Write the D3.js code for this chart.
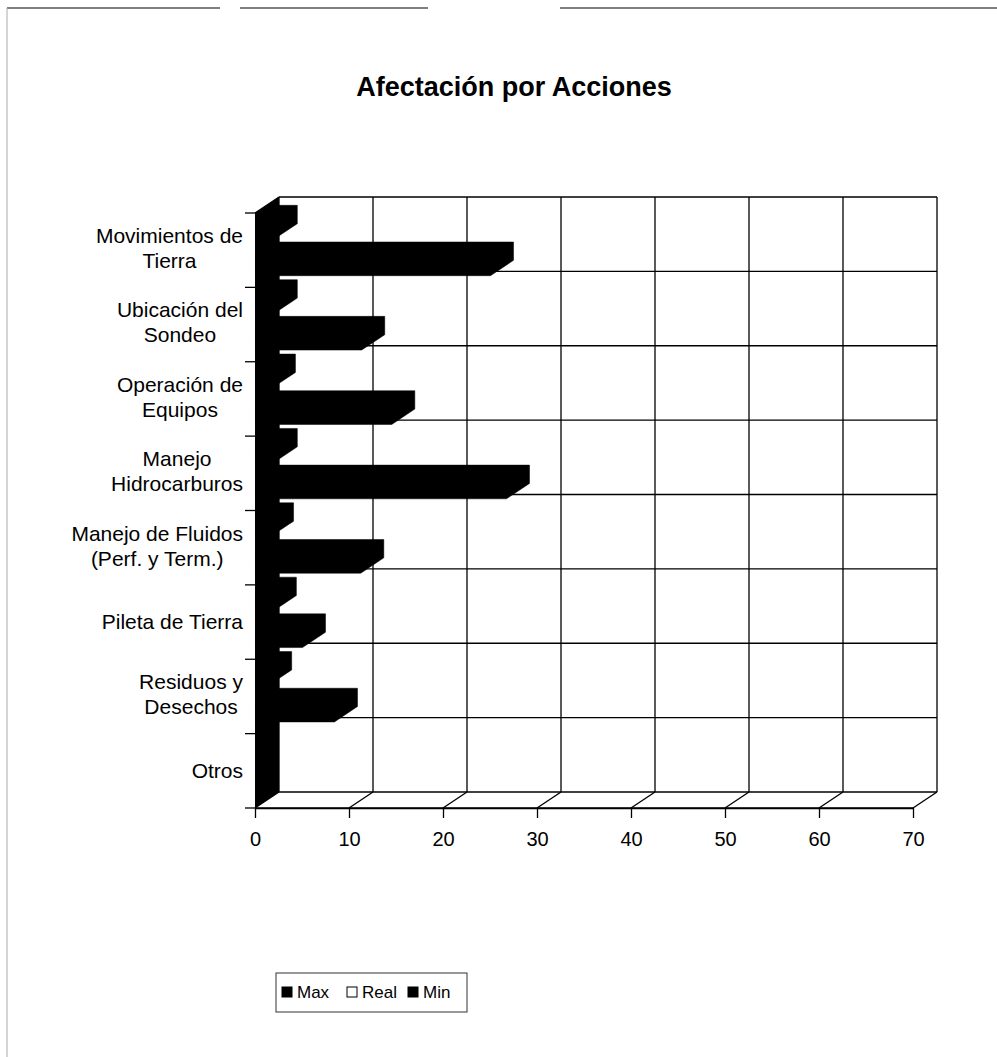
<!DOCTYPE html>
<html>
<head>
<meta charset="utf-8">
<script src="https://cdn.jsdelivr.net/npm/d3@7"></script>
<style>
  body { margin: 0; background: #fff; }
  text { font-family: "Liberation Sans", Arial, sans-serif; fill: #000; }
</style>
</head>
<body>
<div id="chart"></div>
<script>
// data
var categories = [
  "Movimientos de\nTierra",
  "Ubicación del\nSondeo",
  "Operación de\nEquipos",
  "Manejo\nHidrocarburos",
  "Manejo de Fluidos\n(Perf. y Term.)",
  "Pileta de Tierra",
  "Residuos y\nDesechos",
  "Otros"
];
var maxValues  = [25, 11.3, 14.5, 26.7, 11.2, 5, 8.4, 0];
var realValues = [0, 0, 0, 0, 0, 0, 0, 0];
var minValues  = [2, 2, 1.8, 2, 1.6, 1.9, 1.4, 0];
var seriesNames = ["Max", "Real", "Min"];
var seriesFill = ["#000", "#fff", "#000"];
var xTicks = [0, 10, 20, 30, 40, 50, 60, 70];

var W = 997, H = 1057;
var DX = 24, DY = -16;     // depth offset of the 3d box
var d0 = 0.02, d1 = 0.98;  // bar depth inside the box

var svg = d3.select("#chart").append("svg")
  .attr("width", W).attr("height", H);

// page border (top and left edge only, broken as in the scan)
var border = svg.append("g").attr("stroke", "#555").attr("stroke-width", 1.5);
[[7, 220], [240, 428], [560, W]].forEach(function (s) {
  border.append("line").attr("x1", s[0]).attr("y1", 8).attr("x2", s[1]).attr("y2", 8);
});
svg.append("line").attr("x1", 7).attr("y1", 8).attr("x2", 7).attr("y2", H)
  .attr("stroke", "#aaa").attr("stroke-width", 1);

svg.append("text")
  .attr("x", 514).attr("y", 96)
  .attr("text-anchor", "middle")
  .style("font-size", "27px").style("font-weight", "bold")
  .text("Afectación por Acciones");

var x = d3.scaleLinear().domain([0, 70]).range([255, 913]);
var y = d3.scaleBand().domain(categories).range([213, 808]).padding(0);
var ys = d3.scaleBand().domain(["Min", "Real", "Max"]).range([8, 63]);

function P(v, yy, d) { return [x(v) + d * DX, yy + d * DY]; }
function seg(g, a, b) {
  g.append("line").attr("x1", a[0]).attr("y1", a[1]).attr("x2", b[0]).attr("y2", b[1]);
}

var yTop = y.range()[0], yBot = y.range()[1];
var bounds = categories.map(function (c) { return y(c); }).concat([yBot]);

// back wall grid
var grid = svg.append("g").attr("stroke", "#000").attr("stroke-width", 1.3);
xTicks.forEach(function (t) { seg(grid, P(t, yTop, 1), P(t, yBot, 1)); });
bounds.forEach(function (b) { seg(grid, P(0, b, 1), P(70, b, 1)); });

// bottom plane
seg(grid, P(0, yBot, 0), P(70, yBot, 0));
xTicks.forEach(function (t) { seg(grid, P(t, yBot, 0), P(t, yBot, 1)); });
seg(grid, P(0, yTop, 0), P(0, yTop, 1));

// left plane at value 0, filled black
svg.append("polygon")
  .attr("points", [P(0, yTop, 0), P(0, yTop, 1), P(0, yBot, 1), P(0, yBot, 0)]
    .map(function (p) { return p.join(","); }).join(" "))
  .attr("fill", "#000");

// bars
var rows = [];
categories.forEach(function (c, i) {
  var vals = [maxValues[i], realValues[i], minValues[i]];
  seriesNames.forEach(function (s, j) {
    rows.push({ cat: c, series: s, value: vals[j], fill: seriesFill[j] });
  });
});

svg.append("g").selectAll("path")
  .data(rows.filter(function (r) { return r.value > 0; }))
  .enter().append("path")
  .attr("d", function (r) {
    var top = y(r.cat) + ys(r.series), bot = top + ys.bandwidth();
    var pts = [
      P(0, bot, d0), P(r.value, bot, d0), P(r.value, bot, d1),
      P(r.value, top, d1), P(0, top, d1), P(0, top, d0)
    ];
    return "M" + pts.map(function (p) { return p.join(","); }).join("L") + "Z";
  })
  .attr("fill", function (r) { return r.fill; })
  .attr("stroke", "#000").attr("stroke-width", 0.5);

// value axis
var xAxis = d3.axisBottom(x).tickValues(xTicks).tickSize(10).tickSizeOuter(0).tickPadding(14);
var xg = svg.append("g").attr("transform", "translate(0," + yBot + ")").call(xAxis);
xg.select(".domain").attr("stroke", "#000").attr("stroke-width", 1.3);
xg.selectAll(".tick line").attr("stroke", "#000").attr("stroke-width", 1.3);
xg.selectAll(".tick text").style("font-size", "20px").attr("fill", "#000")
  .style("font-family", "'Liberation Sans', Arial, sans-serif");

// category ticks at band edges
var yg = svg.append("g").attr("stroke", "#000").attr("stroke-width", 1.3);
bounds.forEach(function (b) { seg(yg, [x(0) - 10, b], [x(0), b]); });

// category labels: lines centered, block right-aligned to the axis
var labelRight = 243, lineH = 25;
categories.forEach(function (c) {
  var lines = c.split("\n");
  var cy = y(c) + y.bandwidth() / 2 - (lines.length > 1 ? 2 : 0);
  var t = svg.append("text").style("font-size", "21px").attr("text-anchor", "middle");
  var spans = lines.map(function (l, k) {
    return t.append("tspan").attr("y", cy + (k - (lines.length - 1) / 2) * lineH)
      .attr("dy", "0.35em").text(l);
  });
  var wMax = d3.max(spans, function (s) { return s.node().getComputedTextLength(); });
  spans.forEach(function (s) { s.attr("x", labelRight - wMax / 2); });
});

// legend
var lg = svg.append("g").attr("transform", "translate(276,973)");
lg.append("rect").attr("width", 191).attr("height", 39)
  .attr("fill", "none").attr("stroke", "#333").attr("stroke-width", 1);
var lx = [6, 71, 132];
seriesNames.forEach(function (s, i) {
  lg.append("rect").attr("x", lx[i]).attr("y", 14).attr("width", 10).attr("height", 10)
    .attr("fill", seriesFill[i]).attr("stroke", "#000").attr("stroke-width", 1);
  lg.append("text").attr("x", lx[i] + 15).attr("y", 19).attr("dy", "0.35em")
    .style("font-size", "17px").text(s);
});
</script>
</body>
</html>
